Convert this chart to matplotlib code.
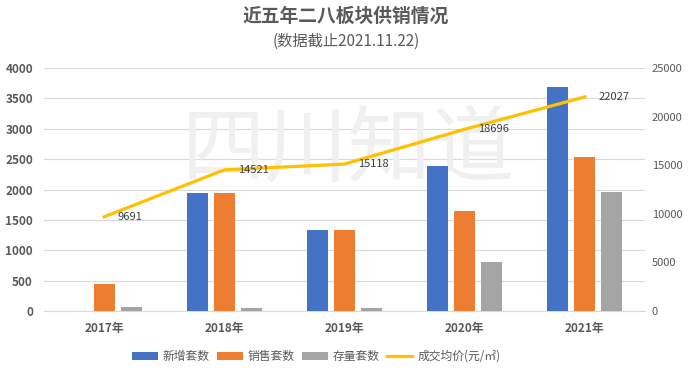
import matplotlib
matplotlib.use("Agg")
import matplotlib.pyplot as plt
import numpy as np

plt.rcParams['font.family'] = ['Noto Sans CJK SC', 'DejaVu Sans']

years = ['2017年', '2018年', '2019年', '2020年', '2021年']
new_units = [0, 1950, 1335, 2390, 3690]
sold_units = [440, 1950, 1335, 1645, 2535]
stock_units = [65, 50, 50, 805, 1965]
avg_price = [9691, 14521, 15118, 18696, 22027]

c_blue = '#4472C4'
c_orange = '#ED7D31'
c_gray = '#A5A5A5'
c_line = '#FFC000'
txt = '#595959'

fig = plt.figure(figsize=(6.92, 3.77), dpi=100)
ax = fig.add_axes([0.0636, 0.175, 0.932 - 0.0636, 0.8196 - 0.175])
x = np.arange(len(years))
w = 0.175
off = 0.225
b1 = ax.bar(x - off, new_units, w, color=c_blue, label='新增套数', zorder=3)
b2 = ax.bar(x, sold_units, w, color=c_orange, label='销售套数', zorder=3)
b3 = ax.bar(x + off, stock_units, w, color=c_gray, label='存量套数', zorder=3)
ax.set_xlim(-0.5, len(years) - 0.5)
ax.set_ylim(0, 4000)
ax.set_yticks(np.arange(0, 4001, 500))
ax.grid(axis='y', color='#D9D9D9', linewidth=0.8, zorder=0)
ax.set_axisbelow(True)
for s in ['top', 'right', 'left']:
    ax.spines[s].set_visible(False)
ax.spines['bottom'].set_color('#D9D9D9')
ax.tick_params(axis='both', length=0, colors=txt, labelsize=8.5)
ax.set_xticks(x)
ax.set_xticklabels(years, fontweight='bold')
for lab in ax.get_yticklabels():
    lab.set_fontweight('bold')
ax.tick_params(axis='x', pad=8)
ax.tick_params(axis='y', pad=8)

# watermark (behind data)
ax.text(0.503, 0.60, '四川知道', transform=fig.transFigure, fontsize=60, color='#F0F0F0',
        ha='center', va='center', zorder=1)

ax2 = ax.twinx()
ax2.set_position(ax.get_position())
ln, = ax2.plot(x, avg_price, color=c_line, linewidth=2.3, label='成交均价(元/㎡)', zorder=4)
ax2.set_ylim(0, 25000)
ax2.set_yticks(np.arange(0, 25001, 5000))
for s in ['top', 'right', 'left', 'bottom']:
    ax2.spines[s].set_visible(False)
ax2.tick_params(axis='y', length=0, colors=txt, labelsize=8, pad=5)
for xi, v in zip(x, avg_price):
    ax2.annotate(str(v), (xi, v), xytext=(10, 0), textcoords='offset points',
                 ha='left', va='center', fontsize=8, color='#404040', zorder=5)

fig.text(0.5, 0.958, '近五年二八板块供销情况', ha='center', va='center',
         fontsize=13.5, fontweight='bold', color=txt)
fig.text(0.5, 0.89, '(数据截止2021.11.22)', ha='center', va='center',
         fontsize=11, color=txt)

handles = [b1, b2, b3, ln]
labels = ['新增套数', '销售套数', '存量套数', '成交均价(元/㎡)']
fig.legend(handles, labels, loc='center', bbox_to_anchor=(0.457, 0.055), ncol=4,
           frameon=False, fontsize=8.5, handlelength=2.2, handleheight=0.7,
           columnspacing=0.6, handletextpad=0.4, labelcolor=txt)

fig.savefig('out.png', dpi=100)
